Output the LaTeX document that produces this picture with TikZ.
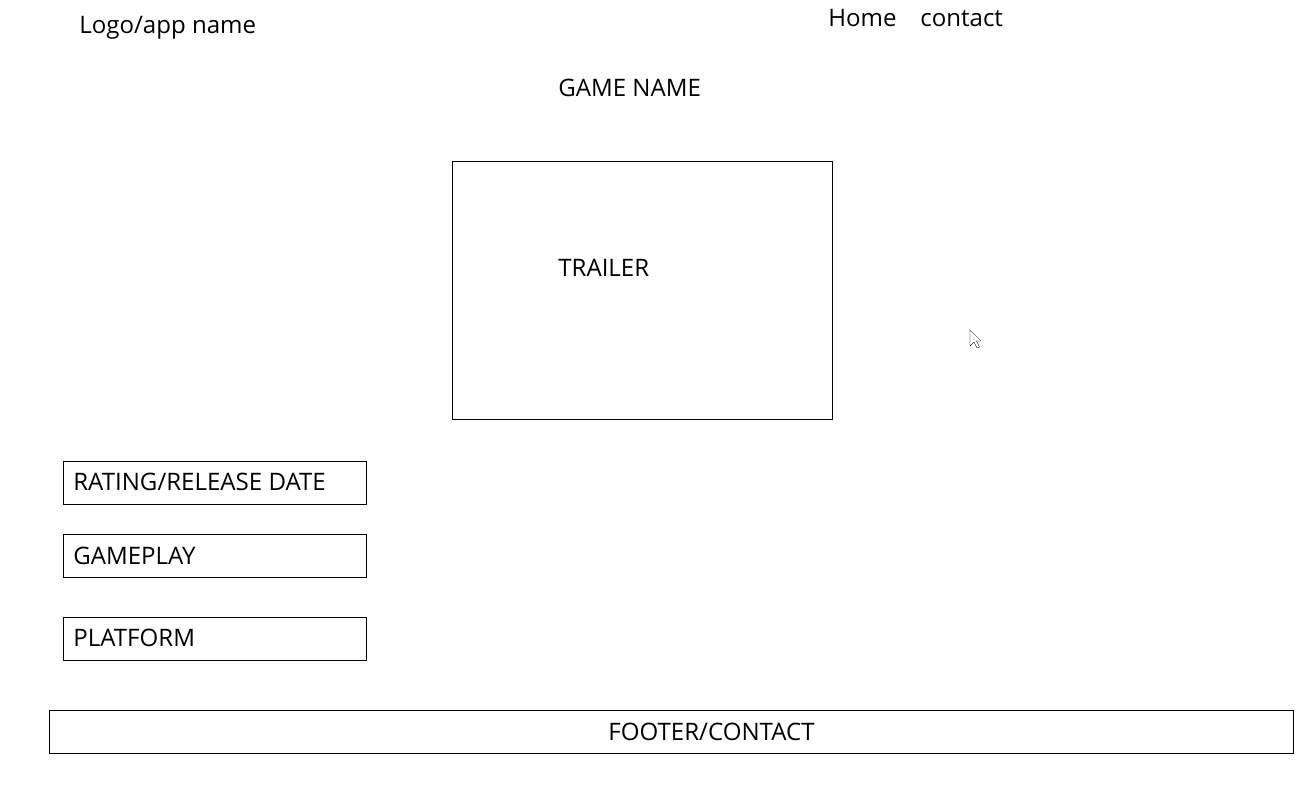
\documentclass[tikz,border=0pt]{standalone}
\usepackage{fontspec}
\setmainfont{Open Sans}
\usetikzlibrary{positioning}

\begin{document}
\begin{tikzpicture}[
    x = 0.02cm, y = -0.02cm, % one unit per pixel
    font = \fontsize{13.7}{16}\selectfont,
    thin % line style
    ]

    \tikzset{
    box/.style = {draw = black, rectangle, inner sep = 0pt},
    field/.style = {box, minimum width = 303*0.02cm, minimum height = 43*0.02cm},
    label/.style = {anchor = base west, inner sep = 0pt}
    }
    \useasboundingbox (0,0) rectangle (1312,799);

    % header
    \node[label] (logo) at (79,33) {Logo/app name};
    \node[label] (home) at (828,26) {Home};
    \node[label] (contact) at (920,26) {contact};
    \node[label] (gamename) at (558,96) {GAME NAME};

    % trailer
    \node[box, minimum width = 380*0.02cm, minimum height = 258*0.02cm] (trailer) at (642,290) {};
    \node[label] (trailertext) at (558,276) {TRAILER};

    % info fields
    \node[field] (rating) at (214.5,482.5) {};
    \node[field] (gameplay) at (214.5,556) {};
    \node[field] (platform) at (214.5,638.5) {};
    \node[label] (ratingtext) at (73,490) {RATING/RELEASE DATE};
    \node[label] (gameplaytext) at (73,564) {GAMEPLAY};
    \node[label] (platformtext) at (73,646) {PLATFORM};

    % footer
    \node[box, minimum width = 1244*0.02cm, minimum height = 43*0.02cm] (footer) at (671,731.5) {};
    \node[label, anchor = base] (footertext) at (711.5,740) {FOOTER/CONTACT};

    % mouse pointer
    \draw[very thin, fill = white] (970,330) -- (970,346) -- (974,342) -- (977,348)
        -- (979.5,347) -- (976.5,341) -- (981,341) -- cycle;
\end{tikzpicture}
\end{document}
